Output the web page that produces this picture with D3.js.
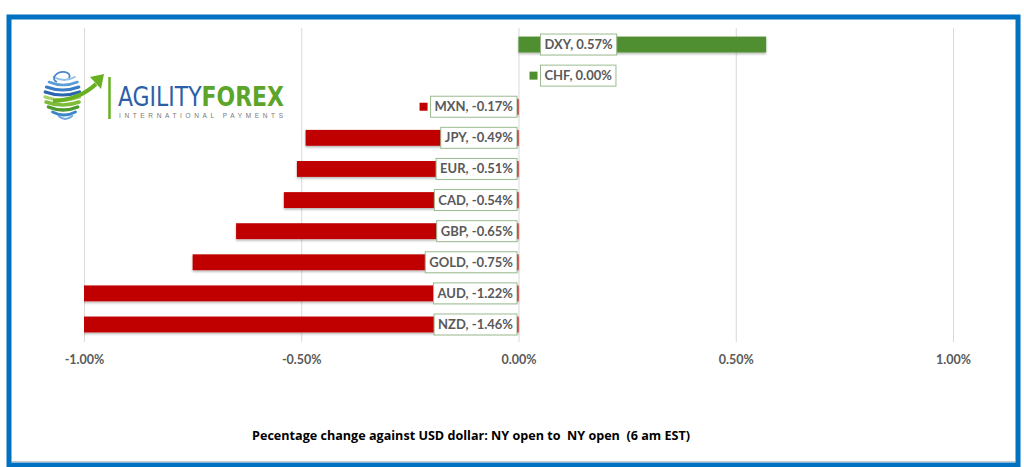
<!DOCTYPE html>
<html><head><meta charset="utf-8">
<script src="https://cdn.jsdelivr.net/npm/d3@7"></script>
<style>
html,body{margin:0;padding:0;background:#fff;}
svg{display:block;}
</style></head>
<body>
<svg id="chart" width="1024" height="467"></svg>
<script>
const categories = ["DXY","CHF","MXN","JPY","EUR","CAD","GBP","GOLD","AUD","NZD"];
const values = [0.57, 0.00, -0.17, -0.49, -0.51, -0.54, -0.65, -0.75, -1.22, -1.46];
const tickValues = [-1.0, -0.5, 0, 0.5, 1.0];
const tickLabels = ["-1.00%","-0.50%","0.00%","0.50%","1.00%"];
const title = "Pecentage change against USD dollar: NY open to  NY open  (6 am EST)";

const svg = d3.select("#chart");
const RED = "#c00000", GREEN = "#4f8f30";

// outer frame
svg.append("rect").attr("x",9).attr("y",17).attr("width",1009).attr("height",448)
  .attr("fill","#fff").attr("stroke","#0070c0").attr("stroke-width",5);
svg.append("line").attr("x1",12).attr("x2",1015).attr("y1",461.5).attr("y2",461.5)
  .attr("stroke","#c8c8c8").attr("stroke-width",1);

const x = d3.scaleLinear().domain([-1,1]).range([84,953]);
const y = d3.scaleBand().domain(categories).range([28.5,340.5]).paddingInner(0.49).paddingOuter(0.26);

// defs
const defs = svg.append("defs");
defs.append("clipPath").attr("id","plotclip").append("rect")
  .attr("x",x(-1)).attr("y",20).attr("width",x(1)-x(-1)).attr("height",330);
const f = defs.append("filter").attr("id","shadow").attr("x","-5%").attr("y","-30%").attr("width","110%").attr("height","180%");
f.append("feDropShadow").attr("dx",0).attr("dy",1.5).attr("stdDeviation",1).attr("flood-color","#000").attr("flood-opacity",0.3);

// gridlines
svg.append("g").selectAll("line").data(tickValues).join("line")
  .attr("x1",d=>x(d)+0.5).attr("x2",d=>x(d)+0.5).attr("y1",28).attr("y2",342)
  .attr("stroke","#d9d9d9").attr("stroke-width",1);

// axis tick labels
const axis = d3.axisBottom(x).tickValues(tickValues).tickFormat((d,i)=>tickLabels[i]).tickSize(0).tickPadding(0);
const ag = svg.append("g").attr("transform","translate(0,355)").call(axis);
ag.select(".domain").remove();
ag.selectAll("text").attr("fill","#595959").attr("font-family","Lato, 'Open Sans', sans-serif")
  .attr("font-weight","bold").attr("font-size","12.5px").attr("dy","0.71em");

// bars
svg.append("g").attr("clip-path","url(#plotclip)").selectAll("rect").data(values).join("rect")
  .attr("x",d=>x(Math.min(0,d)))
  .attr("width",d=>Math.abs(x(d)-x(0)))
  .attr("y",(d,i)=>y(categories[i]))
  .attr("height",y.bandwidth())
  .attr("fill",d=>d>=0?GREEN:RED)
  .attr("filter","url(#shadow)");

// data labels with legend keys
const lg = svg.append("g");
categories.forEach((c,i)=>{
  const v = values[i];
  const cy = y(c)+y.bandwidth()/2;
  const g = lg.append("g");
  const t = g.append("text").text(c+", "+v.toFixed(2)+"%")
    .attr("font-family","Lato, 'Open Sans', sans-serif").attr("font-weight","bold")
    .attr("font-size","13px").attr("fill","#595959").attr("dy","0.35em").attr("y",cy);
  const w = t.node().getComputedTextLength();
  const bw = w+8, bh = 21;
  let bx;
  if (v >= 0) bx = x(0)+22; else bx = x(0)-1.5-bw;
  t.attr("x",bx+4);
  g.insert("rect","text").attr("x",bx).attr("y",cy-bh/2).attr("width",bw).attr("height",bh)
    .attr("fill","#fff").attr("stroke","#9bbb8f").attr("stroke-width",1);
  const kx = bx-11;
  g.insert("rect","rect").attr("x",kx).attr("y",cy-4).attr("width",8).attr("height",8)
    .attr("fill",v>=0?GREEN:RED);
});

// title
svg.append("text").attr("x",471).attr("y",440).attr("text-anchor","middle")
  .attr("font-family","'Open Sans', Lato, sans-serif").attr("font-weight","bold")
  .attr("font-size","12.6px").attr("fill","#000").style("white-space","pre")
  .text(title);

// logo
const logo = svg.append("g");
const gc = [67,96], R = 23;
// latitude-like swoosh bands forming a globe
const bands = [
  {y:-18, c:"#8ec0e8", w:2},
  {y:-13, c:"#5b9bd8", w:2.6},
  {y:-8, c:"#3b7cc6", w:3},
  {y:-3, c:"#2b66b0", w:3.2},
  {y:2, c:"#a8d36a", w:3.4},
  {y:7, c:"#7dbd3a", w:3.6},
  {y:12, c:"#4f9a2c", w:3.4},
  {y:17, c:"#3d86c6", w:2.8},
  {y:21, c:"#6ea8dc", w:2},
];
bands.forEach((b,k)=>{
  const half = Math.sqrt(Math.max(0,R*R-b.y*b.y));
  const x0 = gc[0]-half, x1 = gc[0]+half*0.55;
  const p = d3.path();
  p.moveTo(x0+1, gc[1]+b.y-1);
  p.quadraticCurveTo(gc[0]-half*0.2, gc[1]+b.y+5, x1, gc[1]+b.y-1);
  logo.append("path").attr("d",p.toString()).attr("fill","none").attr("stroke",b.c)
    .attr("stroke-width",b.w).attr("stroke-linecap","round");
});
// top swirl
logo.append("path").attr("d",`M${gc[0]-10},${gc[1]-14} a8,5 -15 1 1 12,-4`).attr("fill","none")
  .attr("stroke","#4a86c8").attr("stroke-width",1.8);
// arrow
const ap = d3.path();
ap.moveTo(gc[0]-14, gc[1]+5); ap.quadraticCurveTo(gc[0]+12, gc[1]+4, gc[0]+29, gc[1]-12);
logo.append("path").attr("d",ap.toString()).attr("fill","none").attr("stroke","#6ab023").attr("stroke-width",4);
logo.append("path").attr("d",`M${gc[0]+23},${gc[1]-19} L${gc[0]+37},${gc[1]-22} L${gc[0]+34},${gc[1]-7} Z`).attr("fill","#6ab023");
// divider
logo.append("line").attr("x1",109.5).attr("x2",109.5).attr("y1",77).attr("y2",119)
  .attr("stroke","#6ab023").attr("stroke-width",2.5);
const lt = logo.append("text").attr("x",118).attr("y",106)
  .attr("font-family","'DejaVu Sans Condensed','Liberation Sans Narrow', sans-serif").attr("font-size","27px")
  .attr("textLength",166).attr("lengthAdjust","spacingAndGlyphs");
lt.append("tspan").attr("fill","#2d5fa6").text("AGILITY");
lt.append("tspan").attr("fill","#5da52a").attr("font-weight","bold").text("FOREX");
logo.append("text").attr("x",119).attr("y",118).attr("font-family","'Liberation Sans', sans-serif")
  .attr("font-size","6.5px").attr("fill","#777").attr("textLength",164).attr("lengthAdjust","spacing")
  .text("INTERNATIONAL PAYMENTS");
</script>
</body></html>
